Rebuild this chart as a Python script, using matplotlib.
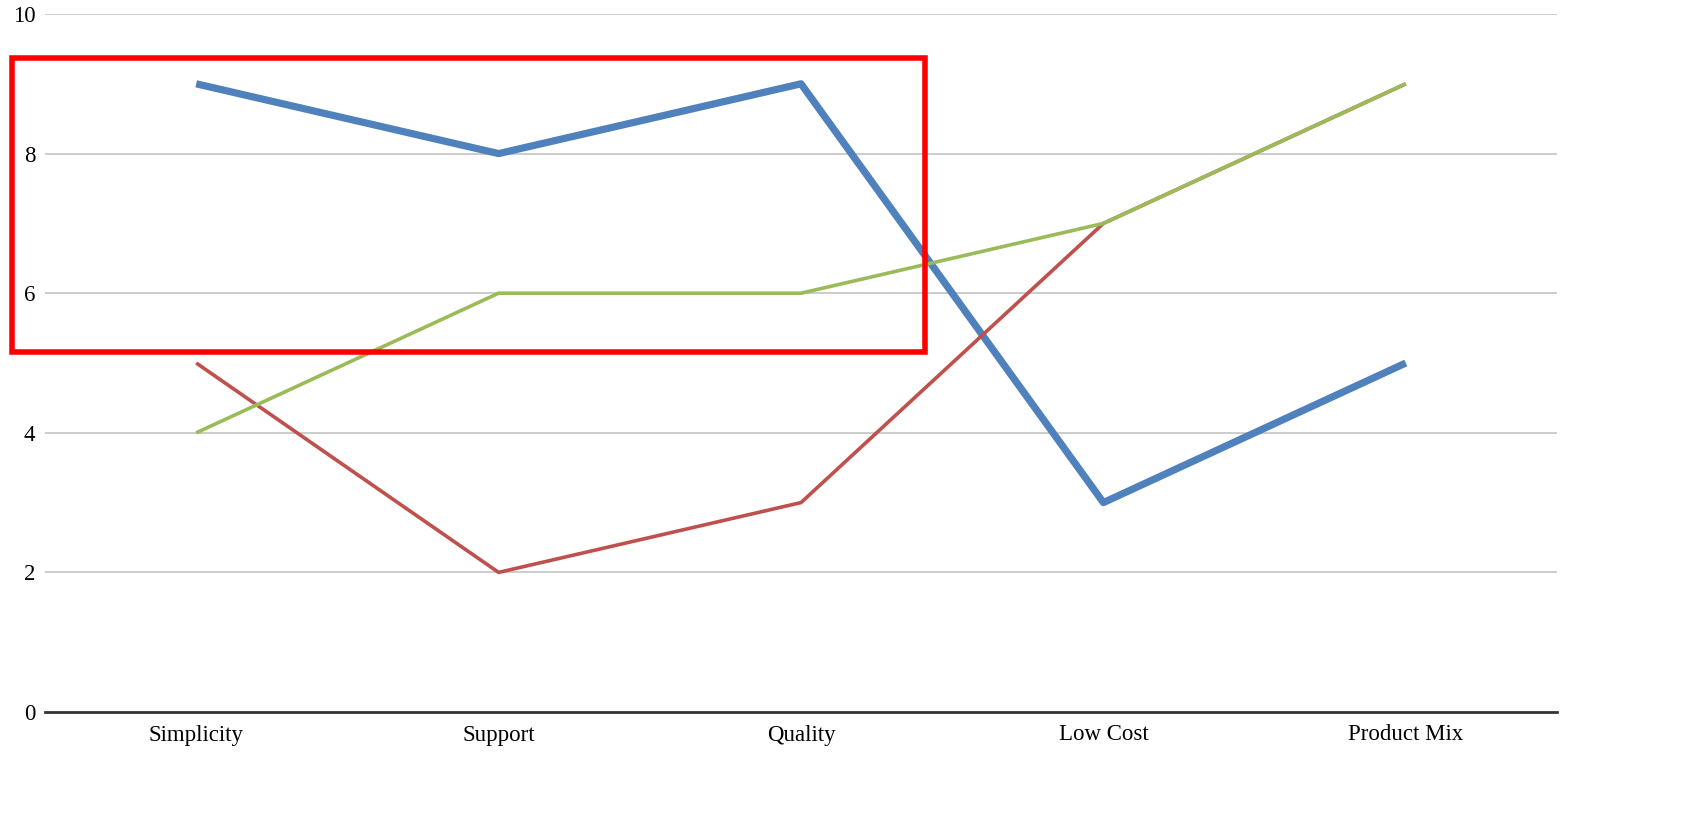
import matplotlib.pyplot as plt
from matplotlib.patches import Rectangle

# datos
categorias = ["Simplicity", "Support", "Quality", "Low Cost", "Product Mix"]
serie_azul = [9, 8, 9, 3, 5]
serie_roja = [5, 2, 3, 7, 9]
serie_verde = [4, 6, 6, 7, 9]
y_ticks = [0, 2, 4, 6, 8, 10]

plt.rcParams['font.family'] = ['Liberation Serif', 'DejaVu Serif']

fig = plt.figure(figsize=(17, 8.15), dpi=100)
ax = fig.add_axes([45 / 1700, 1 - 712 / 815, 1512 / 1700, 698 / 815])

x = range(len(categorias))
ax.plot(x, serie_azul, color="#4F81BD", lw=5.2, solid_capstyle="butt", zorder=3)
ax.plot(x, serie_roja, color="#C0504D", lw=2.6, solid_capstyle="butt", zorder=4)
ax.plot(x, serie_verde, color="#9BBB59", lw=2.6, solid_capstyle="butt", zorder=5)

ax.set_xlim(-0.5, len(categorias) - 0.5)
ax.set_ylim(0, 10)
ax.set_xticks(list(x))
ax.set_xticklabels(categorias, fontsize=16.5)
ax.set_yticks(y_ticks)
ax.set_yticklabels([str(v) for v in y_ticks], fontsize=16.5)
ax.tick_params(axis="x", length=0, pad=9)
ax.tick_params(axis="y", length=0, pad=7)

for v in y_ticks[1:]:
    ax.axhline(v, color="#C8C8C8", lw=1.3, zorder=1)

for lado in ["top", "right", "left"]:
    ax.spines[lado].set_visible(False)
ax.spines["bottom"].set_color("#333333")
ax.spines["bottom"].set_linewidth(2)

# recuadro rojo
rect = Rectangle((12 / 1700, 1 - 352 / 815), 913 / 1700, 294 / 815,
                 transform=fig.transFigure, fill=False, edgecolor="#FF0000",
                 lw=4, zorder=10, clip_on=False)
fig.patches.append(rect)

fig.savefig("out.png", dpi=100)
